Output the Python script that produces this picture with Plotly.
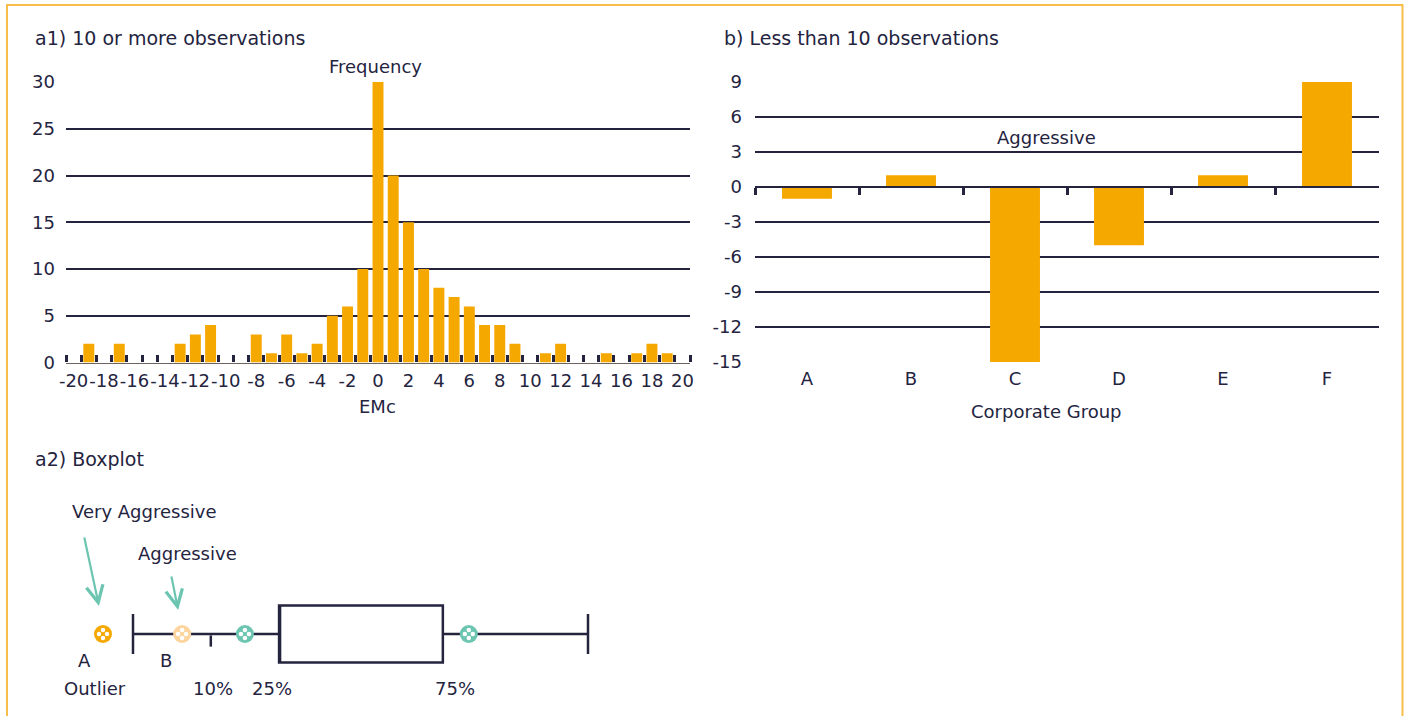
import plotly.graph_objects as go

# ---------------- data ----------------
emc_values = list(range(-20, 21))
emc_freq = [0, 2, 0, 2, 0, 0, 0, 2, 3, 4, 0, 0, 3, 1, 3, 1, 2, 5, 6, 10,
            30, 20, 15, 10, 8, 7, 6, 4, 4, 2, 0, 1, 2, 0, 0, 1, 0, 1, 2, 1, 0]
emc_tick_vals = list(range(-20, 21, 2))

groups = ["A", "B", "C", "D", "E", "F"]
group_values = [-1, 1, -15, -5, 1, 9]
group_ticks = list(range(-15, 10, 3))

freq_ticks = list(range(0, 31, 5))

# boxplot schematic (illustrative scale, lower whisker = 0, upper whisker = 100)
box_lower_whisker = 0
box_p10 = 17.1
box_q25 = 32.1
box_q75 = 68.1
box_upper_whisker = 100
point_names = ["A", "B", "P25", "P75"]
point_values = [-6.6, 10.8, 24.6, 73.8]

# ---------------- style ----------------
W, H = 1408, 716
NAVY = "#24243f"
ORANGE = "#F5A800"
LIGHT_ORANGE = "#FDD49E"
TEAL = "#6CC5B0"
BORDER = "#F8BE4A"
FONT = "DejaVu Sans"

def px_x(p):
    return p / W

def px_y(p):
    return 1 - p / H

fig = go.Figure()

# a1 histogram
fig.add_trace(go.Bar(x=emc_values, y=emc_freq, marker=dict(color=ORANGE, line=dict(width=0)),
                     width=0.72, xaxis="x", yaxis="y"))

# b bar chart
fig.add_trace(go.Bar(x=groups, y=group_values, marker=dict(color=ORANGE, line=dict(width=0)),
                     width=0.48, xaxis="x2", yaxis="y2"))
# helper trace for the zero-line tick axis
fig.add_trace(go.Scatter(x=groups, y=[0] * len(groups), mode="markers",
                         marker=dict(size=1, opacity=0), hoverinfo="skip",
                         xaxis="x4", yaxis="y2"))

# a2 boxplot
fig.add_trace(go.Box(y=[0], q1=[box_q25], median=[box_q25], q3=[box_q75],
                     lowerfence=[box_lower_whisker], upperfence=[box_upper_whisker],
                     orientation="h", width=57, whiskerwidth=0.7,
                     fillcolor="white", line=dict(color=NAVY, width=2.5),
                     boxpoints=False, xaxis="x3", yaxis="y3", hoverinfo="skip"))
fig.add_trace(go.Scatter(x=[box_p10], y=[-7], mode="markers",
                         marker=dict(symbol="line-ns", size=8,
                                     line=dict(color=NAVY, width=2.5)),
                         xaxis="x3", yaxis="y3", hoverinfo="skip"))
fig.add_trace(go.Scatter(x=point_values, y=[0] * len(point_values), mode="markers",
                         marker=dict(size=18, color=[ORANGE, LIGHT_ORANGE, TEAL, TEAL],
                                     line=dict(width=0)),
                         xaxis="x3", yaxis="y3", hoverinfo="skip"))
# four white dots inside each marker (pattern)
X_UNIT_PX = 4.55
for dxp, dyp in [(-4, 0), (4, 0), (0, 4), (0, -4)]:
    fig.add_trace(go.Scatter(x=[v + dxp / X_UNIT_PX for v in point_values],
                             y=[dyp] * len(point_values), mode="markers",
                             marker=dict(size=4.5, color="white", line=dict(width=0)),
                             xaxis="x3", yaxis="y3", hoverinfo="skip"))

# ---------------- axes ----------------
a1_dom_x = [px_x(66), px_x(690)]
a1_dom_y = [px_y(362.5), px_y(82)]
b_dom_x = [px_x(755), px_x(1379)]
b_dom_y = [px_y(362), px_y(82)]
b_range = [group_ticks[0], group_ticks[-1]]
zero_pos = b_dom_y[0] + (0 - b_range[0]) / (b_range[1] - b_range[0]) * (b_dom_y[1] - b_dom_y[0])

tickfont = dict(family=FONT, size=18, color=NAVY)

fig.update_layout(
    template="none",
    width=W, height=H, margin=dict(l=0, r=0, t=0, b=0, autoexpand=False),
    paper_bgcolor="white", plot_bgcolor="white", showlegend=False,
    font=dict(family=FONT, color=NAVY, size=18),
    xaxis=dict(domain=a1_dom_x, anchor="y", range=[-20.5, 20.5], automargin=False,
               tickmode="array", tickvals=emc_tick_vals, tickangle=0,
               ticktext=[str(v) for v in emc_tick_vals], ticks="",
               showgrid=False, zeroline=False, showline=True,
               linecolor="#6b6461", linewidth=1.2, tickfont=tickfont,
               ticklabelstandoff=2,
               minor=dict(tickmode="array",
                          tickvals=[v - 0.5 for v in emc_values] + [emc_values[-1] + 0.5],
                          ticks="inside", ticklen=7, tickwidth=2.5, tickcolor=NAVY,
                          showgrid=False)),
    yaxis=dict(domain=a1_dom_y, anchor="x", range=[0, 30], tickmode="array",
               automargin=False,
               tickvals=freq_ticks, ticktext=[str(v) for v in freq_ticks],
               showgrid=True, gridcolor=NAVY, gridwidth=1.5, zeroline=False,
               showline=False, ticks="", tickfont=tickfont, ticklabelstandoff=10),
    xaxis2=dict(domain=b_dom_x, anchor="y2", type="category", automargin=False,
                categoryarray=groups, range=[-0.5, len(groups) - 0.5],
                showgrid=False, zeroline=False, showline=False, ticks="",
                tickfont=tickfont, ticklabelstandoff=4),
    xaxis4=dict(overlaying="x2", anchor="free", position=zero_pos, type="category",
                automargin=False,
                categoryarray=groups, range=[-0.5, len(groups) - 0.5],
                tickson="boundaries", ticks="outside", ticklen=7, tickwidth=2.5,
                tickcolor=NAVY, showticklabels=False, showgrid=False,
                zeroline=False, showline=True, linecolor=NAVY, linewidth=1.5),
    yaxis2=dict(domain=b_dom_y, anchor="x2", range=b_range, tickmode="array",
                automargin=False,
                tickvals=group_ticks, ticktext=[str(v) for v in group_ticks],
                showgrid=True, gridcolor=NAVY, gridwidth=1.5, zeroline=False,
                showline=False, ticks="", tickfont=tickfont, ticklabelstandoff=12),
    xaxis3=dict(domain=[0, px_x(704)], anchor="y3",
                range=[(0 - 133) / X_UNIT_PX, (704 - 133) / X_UNIT_PX], visible=False),
    yaxis3=dict(domain=[px_y(710), px_y(480)], anchor="x3", range=[-76, 154],
                visible=False),
)

# ---------------- text ----------------
def label(text, x, y, size=18, xref="paper", yref="paper", xanchor="center", **kw):
    fig.add_annotation(text=text, x=x, y=y, xref=xref, yref=yref, showarrow=False,
                       xanchor=xanchor, yanchor="middle",
                       font=dict(family=FONT, size=size, color=NAVY), **kw)

label("a1) 10 or more observations", px_x(33), px_y(38), size=19, xanchor="left")
label("b) Less than 10 observations", px_x(722), px_y(38), size=19, xanchor="left")
label("a2) Boxplot", px_x(33), px_y(459), size=19, xanchor="left")
label("Frequency", px_x(375), px_y(67))
label("EMc", px_x(377), px_y(406))
label("Aggressive", px_x(1046), px_y(138))
label("Corporate Group", px_x(1046), px_y(411))

# boxplot labels
label("A", point_values[0], -26, xref="x3", yref="y3", xshift=-18)
label("B", point_values[1], -26, xref="x3", yref="y3", xshift=-16)
label("Outlier", point_values[0], -54, xref="x3", yref="y3", xshift=-8)
label("10%", box_p10, -54, xref="x3", yref="y3", xshift=2)
label("25%", box_q25, -54, xref="x3", yref="y3", xshift=-7)
label("75%", box_q75, -54, xref="x3", yref="y3", xshift=12)
label("Very Aggressive", point_values[0], 122, xref="x3", yref="y3", xshift=42)
label("Aggressive", point_values[1], 81, xref="x3", yref="y3", xshift=5)

for xv, yv, ax, ay in [(point_values[0], 28, -15, -70), (point_values[1], 24, -7, -35)]:
    fig.add_annotation(x=xv, y=yv, xref="x3", yref="y3", text="", showarrow=True,
                       ax=ax, ay=ay, arrowhead=5, arrowsize=1.5, arrowwidth=2.2,
                       arrowcolor=TEAL, xshift=-4, standoff=0)

# border
fig.add_shape(type="rect", xref="paper", yref="paper", x0=px_x(7), x1=px_x(1402.5),
              y0=-0.05, y1=px_y(5), line=dict(color=BORDER, width=2), layer="below")

fig.write_html("out.html", config={"displayModeBar": False},
               post_script="document.body.style.margin='0';document.body.style.overflow='hidden';")
